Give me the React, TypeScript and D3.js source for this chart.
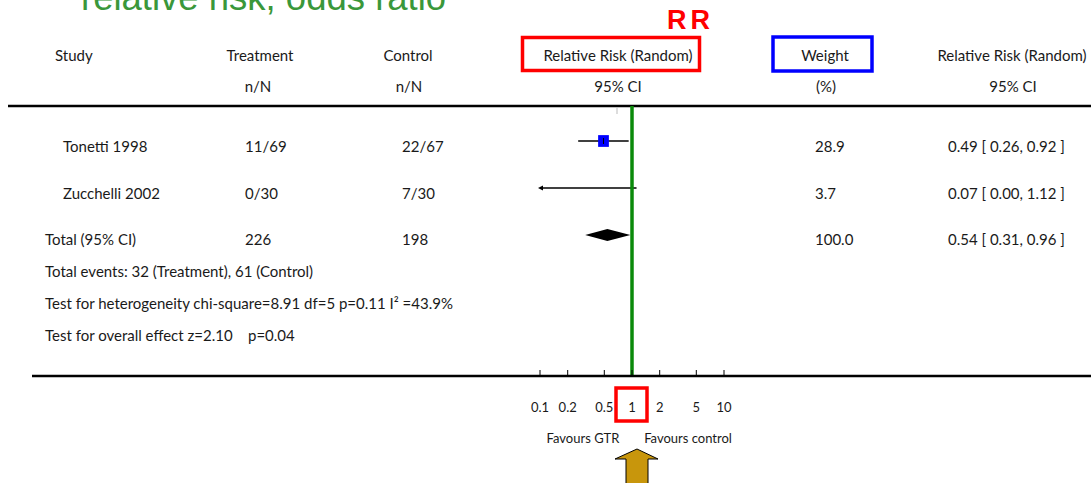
import React from 'react';
import * as d3 from "d3";

// study rows
const studies = ["Tonetti 1998", "Zucchelli 2002"];
const treatment = ["11/69", "0/30"];
const control = ["22/67", "7/30"];
const weights = [28.9, 3.7];
const rr = [0.49, 0.07];
const lower = [0.26, 0.00];
const upper = [0.92, 1.12];
const rrLabels = ["0.49 [ 0.26, 0.92 ]", "0.07 [ 0.00, 1.12 ]"];

// pooled
const totalTreatment = "226";
const totalControl = "198";
const totalWeight = "100.0";
const totalRR = [0.54, 0.31, 0.96];
const totalLabel = "0.54 [ 0.31, 0.96 ]";

const ticks = [0.1, 0.2, 0.5, 1, 2, 5, 10];
const notes = [
	"Total events: 32 (Treatment), 61 (Control)",
	"Test for heterogeneity chi-square=8.91 df=5 p=0.11 I\u00b2 =43.9%",
	"Test for overall effect z=2.10    p=0.04",
];

const W = 1091;
const H = 483;
const font = "Lato, 'Open Sans', sans-serif";
const ink = "#1a1a1a";

function App() {
	const x = d3.scaleLog().domain([0.1, 10]).range([540, 724]);
	const rowY = d3.scaleLinear().domain([0, 1]).range([141, 188]);
	const boxSize = d3.scaleSqrt().domain([0, 100]).range([0, 20]);
	const noteY = d3.scaleLinear().domain([0, 1]).range([277, 309]);
	const totalY = rowY(2);
	const axisY = 376;
	const [mid, lo, hi] = totalRR;
	const diamond = d3.line()([
		[x(lo), totalY],
		[x(mid), totalY - 6],
		[x(hi), totalY],
		[x(mid), totalY + 6],
	]);

	const txt = { fontFamily: font, fontSize: 15, fill: ink } as const;

	return (
		<svg width={W} height={H} style={{ position: 'fixed', left: 0, top: 0, background: '#fff' }}>
			<text x={81} y={10} fontFamily="'Liberation Sans', Arial, sans-serif" fontSize={36.5} fill="#3a973a">
				relative risk, odds ratio
			</text>
			<text x={667} y={29} fontFamily="'Liberation Sans', Arial, sans-serif" fontWeight="bold"
				fontSize={27} letterSpacing={4} fill="#ff0000">RR</text>

			{/* headers */}
			<g {...txt}>
				<text x={55} y={61}>Study</text>
				<text x={260} y={61} textAnchor="middle">Treatment</text>
				<text x={408} y={61} textAnchor="middle">Control</text>
				<text x={618} y={61} textAnchor="middle">Relative Risk (Random)</text>
				<text x={825} y={61} textAnchor="middle">Weight</text>
				<text x={1012} y={61} textAnchor="middle">Relative Risk (Random)</text>
				<text x={258} y={92} textAnchor="middle">n/N</text>
				<text x={409} y={92} textAnchor="middle">n/N</text>
				<text x={618} y={92} textAnchor="middle">95% CI</text>
				<text x={826} y={92} textAnchor="middle">(%)</text>
				<text x={1013} y={92} textAnchor="middle">95% CI</text>
			</g>
			<rect x={522.5} y={37.5} width={177} height={33} fill="none" stroke="#ff0000" strokeWidth={3.5} />
			<rect x={773} y={37} width={99} height={34} fill="none" stroke="#0000ff" strokeWidth={3.5} />

			<line x1={8} x2={W} y1={106} y2={106} stroke="#000" strokeWidth={2.5} />
			<line x1={617} x2={617} y1={107} y2={114} stroke="#bbb" strokeWidth={1} />

			{/* study rows */}
			{studies.map((s, i) => {
				const y = rowY(i);
				const l = Math.max(lower[i], 0.1);
				const clipped = lower[i] < 0.1;
				const inside = rr[i] >= 0.1;
				const b = boxSize(weights[i]);
				return (
					<g key={s}>
						<g {...txt}>
							<text x={63} y={y + 11}>{s}</text>
							<text x={245} y={y + 11}>{treatment[i]}</text>
							<text x={402} y={y + 11}>{control[i]}</text>
							<text x={815} y={y + 11}>{weights[i].toFixed(1)}</text>
							<text x={948} y={y + 11}>{rrLabels[i]}</text>
						</g>
						<line x1={x(l)} x2={x(upper[i])} y1={y} y2={y} stroke="#000" strokeWidth={1.3} />
						{clipped && (
							<path d={`M${x(l) - 2},${y} l5,-2.5 l0,5 z`} fill="#000" />
						)}
						{inside && (
							<g>
								<rect x={x(rr[i]) - b / 2} y={y - b / 2 - 0.5} width={b} height={b + 1} fill="#0000ff" />
								<line x1={x(rr[i])} x2={x(rr[i])} y1={y - 3} y2={y + 3} stroke="#000" strokeWidth={1} />
							</g>
						)}
					</g>
				);
			})}

			{/* total row */}
			<g {...txt}>
				<text x={45} y={totalY + 10}>Total (95% CI)</text>
				<text x={245} y={totalY + 10}>{totalTreatment}</text>
				<text x={402} y={totalY + 10}>{totalControl}</text>
				<text x={815} y={totalY + 10}>{totalWeight}</text>
				<text x={948} y={totalY + 10}>{totalLabel}</text>
			</g>
			<path d={diamond ?? ''} fill="#000" />

			<g {...txt}>
				{notes.map((n, i) => (
					<text key={i} x={45} y={noteY(i)} xmlSpace="preserve" style={{ whiteSpace: 'pre' }}>{n}</text>
				))}
			</g>

			{/* null line */}
			<line x1={x(1)} x2={x(1)} y1={106} y2={375} stroke="#0a8a0a" strokeWidth={3.5} />

			{/* axis */}
			<line x1={32} x2={W} y1={axisY} y2={axisY} stroke="#000" strokeWidth={2.5} />
			{ticks.map(t => (
				<g key={t}>
					<line x1={x(t)} x2={x(t)} y1={axisY - 6} y2={axisY} stroke="#000" strokeWidth={1} />
					<text x={x(t)} y={412} textAnchor="middle" {...txt} fontSize={13}>{String(t)}</text>
				</g>
			))}
			<rect x={616} y={388} width={31} height={33} fill="none" stroke="#ff0000" strokeWidth={3.5} />
			<text x={583} y={443} textAnchor="middle" {...txt} fontSize={13}>Favours GTR</text>
			<text x={688} y={443} textAnchor="middle" {...txt} fontSize={13}>Favours control</text>

			{/* arrow */}
			<path d="M637,449 L658,459 L648,459 L648,490 L626,490 L626,459 L615,459 Z"
				fill="#c8960c" stroke="#000" strokeWidth={1} />
		</svg>
	);
}

export default App;
